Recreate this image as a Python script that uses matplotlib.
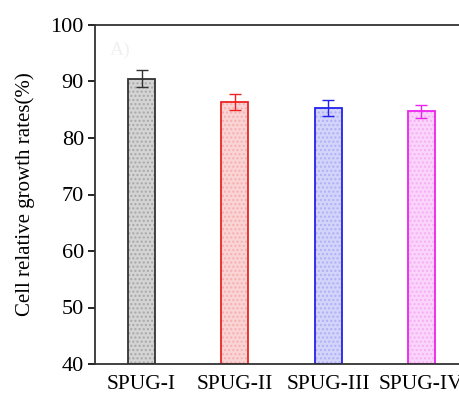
import numpy as np
import matplotlib.pyplot as plt

plt.rcParams['font.family'] = ['Liberation Serif', 'DejaVu Serif']

# data
groups = ['SPUG-I', 'SPUG-II', 'SPUG-III', 'SPUG-IV']
growth = [90.5, 86.4, 85.3, 84.7]
errors = [1.5, 1.4, 1.4, 1.2]

edge_colors = ['#333333', '#ee2222', '#2222ee', '#ee22ee']
face_colors = ['#d4d4d4', '#fad4d4', '#d4d4fa', '#fad4fa']
dot_colors = ['#a8a8a8', '#f4b0b0', '#b0b0f4', '#f4b0f4']

fig = plt.figure(figsize=(4.6, 3.93), dpi=100)
ax = fig.add_axes([95 / 460, 1 - 364 / 393, 373 / 460, 339 / 393])

x = np.arange(len(groups))
width = 0.29

# dotted fill
for xi, h, fc, dc in zip(x, growth, face_colors, dot_colors):
    plt.rcParams['hatch.color'] = dc
    ax.bar(xi, h - 40, width, bottom=40, color=fc, hatch='....',
           edgecolor=dc, linewidth=0)
# outlines and error bars
for xi, h, e, ec in zip(x, growth, errors, edge_colors):
    ax.bar(xi, h - 40, width, bottom=40, fill=False, edgecolor=ec, linewidth=1.3)
    ax.errorbar(xi, h, yerr=e, color=ec, capsize=4, elinewidth=1, capthick=1)

ax.set_xlim(-0.5, 3.5)
ax.set_ylim(40, 100)
ax.set_yticks(range(40, 101, 10))
ax.set_xticks(x)
ax.set_xticklabels(groups)
ax.tick_params(axis='x', length=0, labelsize=15.5, pad=8)
ax.tick_params(axis='y', direction='out', length=5, width=1.2, labelsize=16, pad=3)
ax.set_ylabel('Cell relative growth rates(%)', fontsize=15, labelpad=11)
for s in ax.spines.values():
    s.set_linewidth(1.3)
    s.set_color('#333333')

ax.text(0.04, 0.95, 'A)', transform=ax.transAxes, fontsize=14, color='#f0f0f0', va='top')

fig.savefig('out.png', dpi=100)
